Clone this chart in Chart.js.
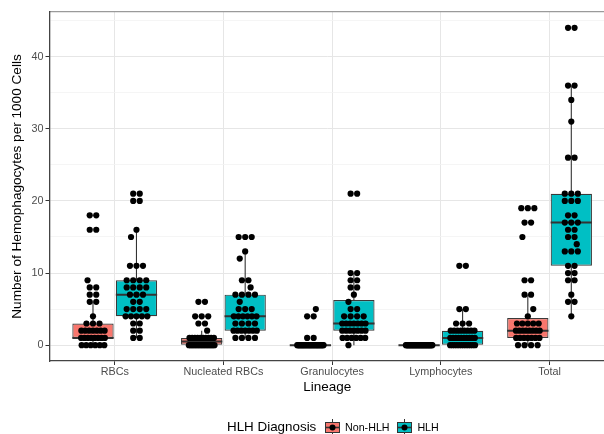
<!DOCTYPE html>
<html><head><meta charset="utf-8">
<script src="https://cdn.jsdelivr.net/npm/chart.js@4"></script>
<style>
html,body{margin:0;padding:0;background:#fff;overflow:hidden}
#wrap{position:relative;width:604px;height:434px;background:#fff;overflow:hidden}
#c{position:absolute;left:0;top:0}
.lg{position:absolute;font-family:"Liberation Sans",Arial,sans-serif;color:#000;white-space:nowrap}
</style></head><body>
<div id="wrap"><canvas id="c" width="609" height="434"></canvas><div id="legend"></div></div>
<script>
// ---- data ----
const categories = ['RBCs', 'Nucleated RBCs', 'Granulocytes', 'Lymphocytes', 'Total'];
const groups = ['Non-HLH', 'HLH'];
const yTicks = [0, 10, 20, 30, 40];

// box statistics (Non-HLH)
const nonQ1  = [1, 0, 0, 0, 1];
const nonMed = [1, 0.5, 0, 0, 2];
const nonQ3  = [3, 1, 0, 0, 3.75];
const nonLo  = [0, 0, 0, 0, 0];
const nonHi  = [6, 2, 0, 0, 7];
// box statistics (HLH)
const hlhQ1  = [4, 2, 2, 0, 11];
const hlhMed = [7, 4, 3, 1, 17];
const hlhQ3  = [9, 7, 6.25, 2, 21];
const hlhLo  = [1, 1, 0, 0, 4];
const hlhHi  = [16, 13, 10, 5, 36];

// individual observations
const nonRBC   = [18,18,16,16,9,8,8,7,7,6,6,4,3,3,3,2,2,2,2,2,2,2,1,1,1,1,1,1,1,1,0,0,0,0,0,0];
const nonNRBC  = [6,6,4,4,4,3,3,2,1,1,1,1,1,1,1,1,1,1,0,0,0,0,0,0,0,0,0,0,0,0,0,0,0,0,0,0];
const nonGran  = [5,4,4,1,1,0,0,0,0,0,0,0,0,0,0,0,0,0,0,0,0,0,0,0,0,0,0,0,0,0,0,0,0,0,0,0];
const nonLymph = [0,0,0,0,0,0,0,0,0,0,0,0,0,0,0,0,0,0,0,0,0,0,0,0,0,0,0,0,0,0,0,0,0,0,0,0];
const nonTotal = [19,19,19,17,17,15,9,9,7,7,5,4,3,3,3,3,3,2,2,2,2,2,2,2,2,1,1,1,1,1,1,1,0,0,0,0];
const hlhRBC   = [21,21,20,20,16,15,11,11,11,9,9,9,9,8,8,8,8,7,7,7,6,6,5,5,5,5,4,4,4,4,4,3,3,2,2,1,1];
const hlhNRBC  = [15,15,15,13,12,9,9,8,7,7,7,7,6,5,5,5,4,4,4,4,4,4,3,3,3,3,2,2,2,2,2,2,2,1,1,1,1];
const hlhGran  = [21,21,10,10,9,9,8,8,7,6,5,5,4,4,4,4,3,3,3,3,3,3,3,2,2,2,2,2,2,2,1,1,1,1,1,1,0];
const hlhLymph = [11,11,5,5,3,3,3,2,2,2,2,2,2,2,2,1,1,1,1,1,1,1,1,1,1,0,0,0,0,0,0,0,0,0,0,0,0];
const hlhTotal = [44,44,36,36,34,31,26,26,21,21,21,20,20,20,18,18,17,17,17,16,16,15,15,14,13,13,13,11,11,10,10,9,9,7,6,6,4];

const nonPoints = [nonRBC, nonNRBC, nonGran, nonLymph, nonTotal];
const hlhPoints = [hlhRBC, hlhNRBC, hlhGran, hlhLymph, hlhTotal];

// ---- layout / style ----
const COLORS = ['#F8766D', '#00BFC4'];
const DODGE = 0.2, HALF = 0.19;
const FONT = '"Liberation Sans", Arial, sans-serif';

function jitter(values, center) {
  const counts = {}, seen = {};
  values.forEach(v => counts[v] = (counts[v] || 0) + 1);
  return values.map(v => {
    const k = counts[v];
    const j = seen[v] = (seen[v] === undefined ? 0 : seen[v] + 1);
    const half = Math.min(0.125, 0.03 * k);
    const off = k === 1 ? ((Math.round(v) % 3) - 1) * 0.05 : -half + 2 * half * (j + 0.5) / k;
    return {x: center + off, y: v};
  });
}
function pointsFor(sets, shift) {
  const out = [];
  sets.forEach((vals, i) => out.push(...jitter(vals, i + 1 + shift)));
  return out;
}
function whiskerData() {
  const out = [];
  [[nonQ1, nonQ3, nonLo, nonHi, -DODGE], [hlhQ1, hlhQ3, hlhLo, hlhHi, DODGE]].forEach(([q1, q3, lo, hi, s]) => {
    categories.forEach((c, i) => {
      const x = i + 1 + s;
      if (lo[i] < q1[i]) out.push({x, y: lo[i]}, {x, y: q1[i]}, {x, y: null});
      if (hi[i] > q3[i]) out.push({x, y: q3[i]}, {x, y: hi[i]}, {x, y: null});
    });
  });
  return out;
}
function medianData() {
  const out = [];
  [[nonMed, -DODGE], [hlhMed, DODGE]].forEach(([m, s]) => {
    categories.forEach((c, i) => {
      const x = i + 1 + s;
      out.push({x: x - HALF, y: m[i]}, {x: x + HALF, y: m[i]}, {x, y: null});
    });
  });
  return out;
}
function boxData(q1, q3) { return categories.map((c, i) => ({x: i + 1, y: [q1[i], q3[i]]})); }

Chart.defaults.font.family = FONT;

new Chart(document.getElementById('c'), {
  data: {
    datasets: [
      {type: 'scatter', label: 'pts-non', data: pointsFor(nonPoints, -DODGE), order: 0,
       pointRadius: 3.1, pointBackgroundColor: '#000', pointBorderWidth: 0},
      {type: 'scatter', label: 'pts-hlh', data: pointsFor(hlhPoints, DODGE), order: 0,
       pointRadius: 3.1, pointBackgroundColor: '#000', pointBorderWidth: 0},
      {type: 'line', label: 'median', data: medianData(), order: 1, borderColor: '#333',
       borderWidth: 2, pointRadius: 0, spanGaps: false, fill: false},
      {type: 'line', label: 'whisker', data: whiskerData(), order: 2, borderColor: '#333',
       borderWidth: 1.1, pointRadius: 0, spanGaps: false, fill: false},
      {type: 'bar', label: groups[0], data: boxData(nonQ1, nonQ3), order: 3,
       backgroundColor: COLORS[0], borderColor: '#3a3a3a', borderWidth: 1.2, borderSkipped: false,
       barPercentage: 0.95, categoryPercentage: 0.8},
      {type: 'bar', label: groups[1], data: boxData(hlhQ1, hlhQ3), order: 3,
       backgroundColor: COLORS[1], borderColor: '#3a3a3a', borderWidth: 1.2, borderSkipped: false,
       barPercentage: 0.95, categoryPercentage: 0.8}
    ]
  },
  options: {
    responsive: false, animation: false, events: [],
    layout: {padding: {left: 0, right: 0, top: 12, bottom: 38.2}},
    plugins: {legend: {display: false}, tooltip: {enabled: false}},
    scales: {
      x: {
        type: 'linear', position: 'bottom', min: 0.4, max: 5.51, offset: false,
        afterBuildTicks: s => { s.ticks = categories.map((c, i) => ({value: i + 1})); },
        afterFit: s => { s.height = 34.8; },
        ticks: {callback: v => categories[v - 1], color: '#4d4d4d', font: {size: 10.8}, padding: 1,
                maxRotation: 0, autoSkip: false, includeBounds: false},
        grid: {offset: false, color: '#e6e6e6', lineWidth: 1, tickColor: '#333', tickLength: 4},
        border: {color: '#444', width: 1.3},
        title: {display: true, text: 'Lineage', color: '#000', font: {size: 13.5}, padding: {top: 0, bottom: 0}}
      },
      x2: {
        type: 'linear', position: 'top', min: 0.4, max: 5.51,
        afterBuildTicks: s => { s.ticks = categories.map((c, i) => ({value: i + 1})); },
        afterFit: s => { s.height = 0; },
        ticks: {display: false, includeBounds: false},
        grid: {display: false, drawTicks: false},
        border: {display: true, color: '#9a9a9a', width: 1.3}
      },
      y: {
        type: 'linear', position: 'left', min: -2.2, max: 46.2,
        afterBuildTicks: s => { const t = []; for (let v = 0; v <= 45; v += 5) t.push({value: v}); s.ticks = t; },
        afterFit: s => { s.width = 49.5; },
        ticks: {callback: v => (yTicks.includes(v) ? String(v) : ''), color: '#4d4d4d', font: {size: 10.8}, padding: 2},
        grid: {
          color: c => (c.tick && yTicks.includes(c.tick.value)) ? '#e6e6e6' : '#f2f2f2',
          lineWidth: c => (c.tick && yTicks.includes(c.tick.value)) ? 1 : 0.8,
          tickColor: c => (c.tick && yTicks.includes(c.tick.value)) ? '#333' : 'rgba(0,0,0,0)',
          tickLength: 4
        },
        border: {color: '#444', width: 1.3},
        title: {display: true, text: 'Number of Hemophagocytes per 1000 Cells', color: '#000',
                font: {size: 13.6}, padding: {top: 9.1, bottom: 0}}
      }
    }
  }
});

// ---- legend (real text) ----
(function () {
  const lg = document.getElementById('legend');
  const cy = 427.3;
  function text(str, left, size) {
    const s = document.createElement('span');
    s.className = 'lg'; s.textContent = str;
    s.style.left = left + 'px'; s.style.fontSize = size + 'px';
    s.style.lineHeight = Math.round(size * 1.2) + 'px';
    s.style.top = (cy - Math.round(size * 1.2) / 2) + 'px';
    lg.appendChild(s);
  }
  function key(left, color) {
    const cv = document.createElement('canvas');
    cv.width = 17; cv.height = 17;
    cv.style.position = 'absolute'; cv.style.left = left + 'px'; cv.style.top = (cy - 8.5) + 'px';
    const g = cv.getContext('2d');
    g.strokeStyle = '#333'; g.lineWidth = 1;
    g.beginPath(); g.moveTo(8.5, 0); g.lineTo(8.5, 17); g.stroke();
    g.fillStyle = color; g.fillRect(1.5, 3.5, 14, 10); g.strokeRect(1.5, 3.5, 14, 10);
    g.lineWidth = 1.6; g.beginPath(); g.moveTo(1.5, 8.5); g.lineTo(15.5, 8.5); g.stroke();
    g.fillStyle = '#000'; g.beginPath(); g.arc(8.5, 8.5, 3, 0, Math.PI * 2); g.fill();
    lg.appendChild(cv);
  }
  text('HLH Diagnosis', 227, 13.4);
  key(324, COLORS[0]);
  text(groups[0], 345, 10.7);
  key(395.5, COLORS[1]);
  text(groups[1], 417.4, 10.7);
})();
</script>
</body></html>
